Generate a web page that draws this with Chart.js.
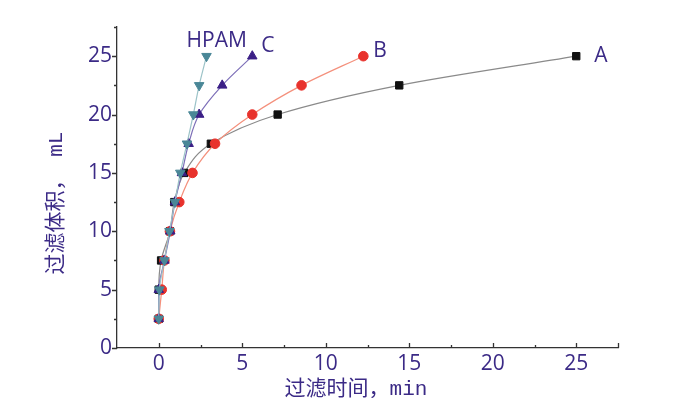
<!DOCTYPE html>
<html>
<head>
<meta charset="utf-8">
<script src="https://cdn.jsdelivr.net/npm/chart.js@4"></script>
<style>
  body { margin: 0; background: #fff; }
  #wrap { width: 689px; height: 398px; }
</style>
</head>
<body>
<div id="wrap"><canvas id="filterChart" width="689" height="398"></canvas></div>
<script>
// filtration volume (mL) against filtration time (min)
var volume = [2.5, 5, 7.5, 10, 12.5, 15, 17.5, 20, 22.5, 25];
var timeA = [0, 0, 0.14, 0.67, 0.93, 1.53, 3.12, 7.12, 14.4, 25];
var timeB = [0, 0.18, 0.34, 0.67, 1.23, 2.02, 3.37, 5.6, 8.55, 12.25];
var timeC = [0, 0, 0.34, 0.69, 0.97, 1.39, 1.79, 2.42, 3.8, 5.6];
var timeHPAM = [0, 0.04, 0.34, 0.64, 0.97, 1.29, 1.69, 2.07, 2.42, 2.86];

var seriesNames = ["HPAM", "C", "B", "A"];
var xTicks = [0, 5, 10, 15, 20, 25];
var yTicks = [0, 5, 10, 15, 20, 25];

var textColor = "#3b2a86";

function pairs(times) {
    return times.map(function (t, i) { return { x: t, y: volume[i] }; });
}

// where each end label sits relative to the last point
var labelOffsets = {
    HPAM: { dx: -20, dy: -15 },
    C: { dx: 9, dy: -10 },
    B: { dx: 10, dy: -5 },
    A: { dx: 18, dy: 0 }
};

var endLabels = {
    id: "endLabels",
    afterDatasetsDraw: function (chart) {
        var ctx = chart.ctx;
        ctx.save();
        ctx.fillStyle = textColor;
        ctx.font = "21px 'Open Sans', sans-serif";
        ctx.textAlign = "left";
        ctx.textBaseline = "middle";
        chart.data.datasets.forEach(function (ds, i) {
            var pts = chart.getDatasetMeta(i).data;
            var last = pts[pts.length - 1];
            var off = labelOffsets[ds.label];
            ctx.fillText(ds.label, last.x + off.dx, last.y + off.dy);
        });
        ctx.restore();
    }
};

// ticks: y axis outward (left), x axis inward (up), with minor ticks
var axisTicks = {
    id: "axisTicks",
    afterDraw: function (chart) {
        var ctx = chart.ctx;
        var xs = chart.scales.x, ys = chart.scales.y;
        var area = chart.chartArea;
        ctx.save();
        ctx.strokeStyle = "#333";
        ctx.lineWidth = 1.3;
        ctx.beginPath();
        for (var v = 0; v <= 27.5; v += 2.5) {
            var py = Math.round(ys.getPixelForValue(v)) + 0.5;
            var len = v % 5 === 0 ? 5 : 3;
            ctx.moveTo(area.left, py);
            ctx.lineTo(area.left - len, py);
        }
        for (var u = 0; u <= 27.5; u += 2.5) {
            var px = Math.round(xs.getPixelForValue(u)) + 0.5;
            var l2 = (u % 5 === 0 || u === 27.5) ? 5 : 3;
            ctx.moveTo(px, area.bottom);
            ctx.lineTo(px, area.bottom - l2);
        }
        ctx.stroke();

        // axis titles
        ctx.fillStyle = textColor;
        ctx.font = "21px 'Liberation Mono', 'Noto Sans CJK SC', monospace";
        ctx.textAlign = "center";
        ctx.textBaseline = "middle";
        ctx.fillText("过滤时间，min", 356, 389);
        ctx.translate(56, 203);
        ctx.rotate(-Math.PI / 2);
        ctx.fillText("过滤体积， mL", 0, 0);
        ctx.restore();
    }
};

function makeSet(name, times, markerColor, lineColor, shape, radius) {
    return {
        label: name,
        data: pairs(times),
        borderColor: lineColor,
        borderWidth: 1.2,
        backgroundColor: markerColor,
        pointBackgroundColor: markerColor,
        pointBorderColor: markerColor,
        pointBorderWidth: 1,
        pointStyle: shape,
        pointRadius: radius,
        pointRotation: shape === "triangle" && name === "HPAM" ? 180 : 0,
        cubicInterpolationMode: "monotone",
        fill: false
    };
}

var ctx = document.getElementById("filterChart").getContext("2d");

var myChart = new Chart(ctx, {
    type: "line",
    data: {
        datasets: [
            makeSet("HPAM", timeHPAM, "#4a8797", "#9cc3c8", "triangle", 5.5),
            makeSet("C", timeC, "#3b1f86", "#7d6fb8", "triangle", 5.5),
            makeSet("B", timeB, "#e8322c", "#f4907c", "circle", 4.8),
            makeSet("A", timeA, "#111111", "#8a8a8a", "rect", 5.2)
        ]
    },
    options: {
        responsive: false,
        animation: false,
        indexAxis: "y",
        layout: { padding: { left: 0, right: 71, top: 27, bottom: 0 } },
        plugins: {
            legend: { display: false },
            tooltip: { enabled: false }
        },
        scales: {
            x: {
                type: "linear",
                position: "bottom",
                min: -2.5,
                max: 27.5,
                afterBuildTicks: function (scale) {
                    scale.ticks = xTicks.map(function (v) { return { value: v }; });
                },
                afterFit: function (scale) { scale.height = 50; },
                grid: { display: false, drawTicks: false },
                border: { display: true, color: "#333", width: 1.3 },
                ticks: {
                    color: textColor,
                    padding: 3,
                    maxRotation: 0,
                    font: { family: "'Open Sans', sans-serif", size: 21 }
                }
            },
            y: {
                type: "linear",
                position: "left",
                min: 0,
                max: 27.5,
                afterBuildTicks: function (scale) {
                    scale.ticks = yTicks.map(function (v) { return { value: v }; });
                },
                afterFit: function (scale) { scale.width = 117; },
                grid: { display: false, drawTicks: false },
                border: { display: true, color: "#333", width: 1.3 },
                ticks: {
                    color: textColor,
                    padding: 5,
                    font: { family: "'Open Sans', sans-serif", size: 21 }
                }
            }
        }
    },
    plugins: [endLabels, axisTicks]
});
</script>
</body>
</html>
